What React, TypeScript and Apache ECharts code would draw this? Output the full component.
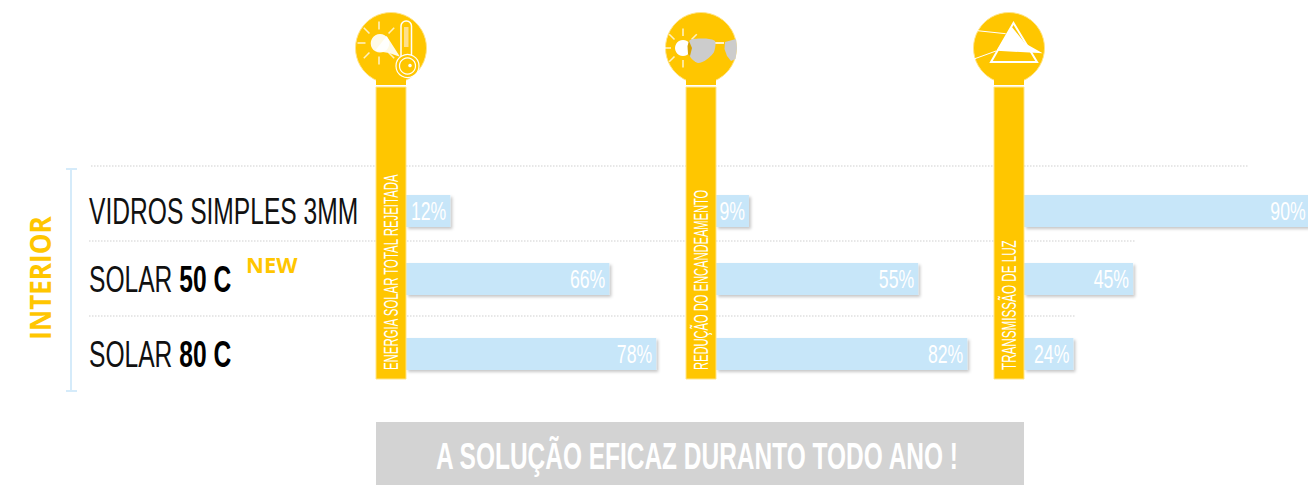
import React, { useEffect, useRef } from "react";
import * as echarts from "echarts";

const rowNames = ["VIDROS SIMPLES 3MM", "SOLAR {b|50 C}", "SOLAR {b|80 C}"];
const panelTitles = ["ENERGIA SOLAR TOTAL REJEITADA", "REDUÇÃO DO ENCANDEAMENTO", "TRANSMISSÃO DE LUZ"];
// printed percentages
const energyLabels = [12, 66, 78];
const glareLabels = [9, 55, 82];
const lightLabels = [90, 45, 24];
// drawn bar lengths (the source's bars are not proportional to the printed numbers)
const energyBars = [15.6, 71.6, 88.1];
const glareBars = [11.6, 71.2, 88.5];
const lightBars = [100.6, 38.4, 17.4];
const sideLabel = "INTERIOR";
const newLabel = "NEW";
const footerLabel = "A SOLUÇÃO EFICAZ DURANTO TODO ANO !";

const YELLOW = "#FFC600";
const BLUE = "#C7E6F9";
const NARROW = "'Liberation Sans', sans-serif";

const panelX = [406, 716, 1024];
const rowY = [211, 279, 354];
const titleScale = [0.543, 0.53, 0.556];
const bars = [energyBars, glareBars, lightBars];
const labels = [energyLabels, glareLabels, lightLabels];

function white(w: number, o = 1) {
  return { stroke: "#fff", lineWidth: w, opacity: o, fill: "none" };
}
function ln(x1: number, y1: number, x2: number, y2: number, style: any) {
  return { type: "line", z: 6, shape: { x1, y1, x2, y2 }, style };
}
function pillar(i: number) {
  const x = panelX[i] - 30;
  const cx = panelX[i] - 15;
  const edge = { stroke: "#FFE58A", lineWidth: 1 };
  return [
    { type: "circle", z: 4, shape: { cx, cy: 48, r: 35.5 }, style: { fill: YELLOW, ...edge } },
    { type: "rect", z: 4, shape: { x, y: 70, width: 30, height: 15 }, style: { fill: YELLOW } },
    { type: "rect", z: 4, shape: { x, y: 87, width: 30, height: 292 }, style: { fill: YELLOW, ...edge } },
    {
      type: "text", z: 5, x: cx, y: 370, rotation: Math.PI / 2, scaleX: titleScale[i],
      style: { text: panelTitles[i], fill: "#fff", fontFamily: NARROW, fontSize: 21, align: "left", verticalAlign: "middle" },
    },
  ];
}
function rays(cx: number, cy: number, r1: number, r2: number, angles: number[], o = 0.75) {
  return angles.map((a) => {
    const t = (a * Math.PI) / 180;
    return ln(cx + r1 * Math.cos(t), cy + r1 * Math.sin(t), cx + r2 * Math.cos(t), cy + r2 * Math.sin(t), white(1.6, o));
  });
}
const iconThermo = [
  ...rays(379, 43, 13.5, 21.5, [45, 90, 135, 180, 225, 270, 315]),
  { type: "circle", z: 6, shape: { cx: 380, cy: 43.3, r: 9.3 }, style: { fill: "#fff", opacity: 0.9 } },
  { type: "polygon", z: 6, shape: { points: [[386.7, 36], [400, 56.7], [389, 53], [375, 50.7]] }, style: { fill: "#fff", opacity: 0.9 } },
  { type: "rect", z: 6, shape: { x: 401, y: 21, width: 10.5, height: 44, r: 5 }, style: { fill: YELLOW, stroke: "#fff", lineWidth: 1.5 } },
  { type: "rect", z: 6, shape: { x: 404, y: 27, width: 4.5, height: 20 }, style: { fill: "#FFE08A" } },
  { type: "circle", z: 6, shape: { cx: 407.5, cy: 66, r: 11.5 }, style: { fill: YELLOW, stroke: "#fff", lineWidth: 1.2 } },
  { type: "circle", z: 6, shape: { cx: 407.5, cy: 66, r: 8 }, style: { fill: YELLOW, stroke: "#fff", lineWidth: 1.2 } },
  { type: "circle", z: 6, shape: { cx: 410, cy: 65.5, r: 1.8 }, style: { fill: "#fff" } },
];
const iconGlasses = [
  ...rays(683, 48, 12, 19.5, [0, 45, 90, 135, 180, 225, 270, 315]),
  { type: "circle", z: 6, shape: { cx: 683, cy: 48, r: 8 }, style: { fill: "#fff" } },
  { type: "polygon", z: 7, shape: { points: [[690, 40], [705, 38.5], [715, 41], [714, 52], [706, 60], [698, 63], [691, 58], [688, 50]], smooth: 0.25 }, style: { fill: "#CCCCCC" } },
  { type: "polygon", z: 7, shape: { points: [[689, 41], [692, 48], [690, 56], [688, 54], [687.5, 46]] }, style: { fill: "#D9A400" } },
  ln(698, 48, 706, 48, { stroke: "#D9A400", lineWidth: 1.2 }),
  ln(694, 57, 700, 62, { stroke: "#D9A400", lineWidth: 1.2 }),
  ln(714, 43, 724, 43, white(2, 0.8)),
  { type: "polygon", z: 7, shape: { points: [[725, 42], [736, 39], [737, 48], [735.5, 59], [731, 61], [727, 56], [724.5, 49]] }, style: { fill: "#CCCCCC" } },
];
const iconPrism = [
  ln(977.3, 30.7, 1005.7, 33.7, white(1)),
  ln(974, 59, 996, 51, white(1)),
  { type: "polygon", z: 6, shape: { points: [[1013.5, 23], [1037, 62], [991, 62]] }, style: { fill: "none", stroke: "#fff", lineWidth: 2 } },
  { type: "polygon", z: 6, shape: { points: [[1011.7, 26.7], [1025, 43.3], [1042.7, 53.3], [996.7, 50.7]] }, style: { fill: "#fff" } },
];

function dotted(x1: number, x2: number, y: number) {
  return { type: "line", z: 1, shape: { x1, y1: y, x2, y2: y }, style: { stroke: "#CFCFCF", lineWidth: 1, lineDash: [1.5, 1.5] } };
}
function rowText(i: number) {
  return {
    type: "text", z: 5, x: 89, y: rowY[i] + 1, scaleX: 0.665,
    style: {
      text: rowNames[i], fill: "#111", fontFamily: NARROW, fontSize: 37, align: "left", verticalAlign: "middle",
      rich: { b: { fontFamily: NARROW, fontSize: 37, fontWeight: "bold", fill: "#000" } },
    },
  };
}

export default function App() {
  const ref = useRef<HTMLDivElement>(null);
  useEffect(() => {
    const chart = echarts.init(ref.current!, null, { renderer: "svg" });
    const grid: any[] = [], xAxis: any[] = [], yAxis: any[] = [], series: any[] = [];
    panelX.forEach((left, p) => {
      rowY.forEach((cy, r) => {
        const k = grid.length;
        grid.push({ left, top: cy - 16, width: 284, height: 32 });
        xAxis.push({ gridIndex: k, type: "value", min: 0, max: 100, show: false });
        yAxis.push({ gridIndex: k, type: "category", data: [rowNames[r]], show: false });
        series.push({
          type: "bar", xAxisIndex: k, yAxisIndex: k, barWidth: 32, z: 2,
          data: [bars[p][r]],
          itemStyle: { color: BLUE, shadowColor: "rgba(0,0,0,0.22)", shadowBlur: 3, shadowOffsetX: 2, shadowOffsetY: 2 },
        });
        series.push({
          type: "custom", xAxisIndex: k, yAxisIndex: k, z: 3, clip: false,
          data: [[bars[p][r], 0, labels[p][r]]],
          renderItem: (_: any, api: any) => {
            const pt = api.coord([api.value(0), 0]);
            return {
              type: "text", x: pt[0] - 4, y: pt[1], scaleX: 0.68,
              style: { text: api.value(2) + "%", fill: "#fff", fontFamily: NARROW, fontSize: 26, align: "right", verticalAlign: "middle" },
            };
          },
        });
      });
    });
    chart.setOption({
      animation: false,
      grid, xAxis, yAxis, series,
      graphic: { elements: [
        dotted(91, 1249, 166), dotted(89, 1135, 241), dotted(89, 1075, 316),
        ...pillar(0), ...pillar(1), ...pillar(2),
        ...iconThermo, ...iconGlasses, ...iconPrism,
        rowText(0), rowText(1), rowText(2),
        { type: "text", z: 5, x: 246, y: 264, style: { text: newLabel, fill: YELLOW, fontFamily: "'Open Sans', sans-serif", fontWeight: "bold", fontSize: 22, align: "left", verticalAlign: "middle" } },
        { type: "text", z: 5, x: 40, y: 278, rotation: Math.PI / 2, scaleX: 0.9, style: { text: sideLabel, fill: YELLOW, fontFamily: "'Open Sans', sans-serif", fontWeight: "bold", fontSize: 29, align: "center", verticalAlign: "middle" } },
        { type: "line", z: 1, shape: { x1: 71, y1: 168, x2: 71, y2: 392 }, style: { stroke: "#D5EBFA", lineWidth: 2 } },
        { type: "line", z: 1, shape: { x1: 66, y1: 169, x2: 77, y2: 169 }, style: { stroke: "#D5EBFA", lineWidth: 2 } },
        { type: "line", z: 1, shape: { x1: 66, y1: 391, x2: 77, y2: 391 }, style: { stroke: "#D5EBFA", lineWidth: 2 } },
        { type: "rect", z: 1, shape: { x: 376, y: 422, width: 648, height: 63 }, style: { fill: "#D3D3D3" } },
        { type: "text", z: 5, x: 697, y: 457, scaleX: 0.68, style: { text: footerLabel, fill: "#fff", fontFamily: NARROW, fontWeight: "bold", fontSize: 36, align: "center", verticalAlign: "middle" } },
      ] },
    });
    return () => chart.dispose();
  }, []);
  return <div ref={ref} style={{ position: "absolute", left: 0, top: 0, width: 1308, height: 485 }} />;
}
